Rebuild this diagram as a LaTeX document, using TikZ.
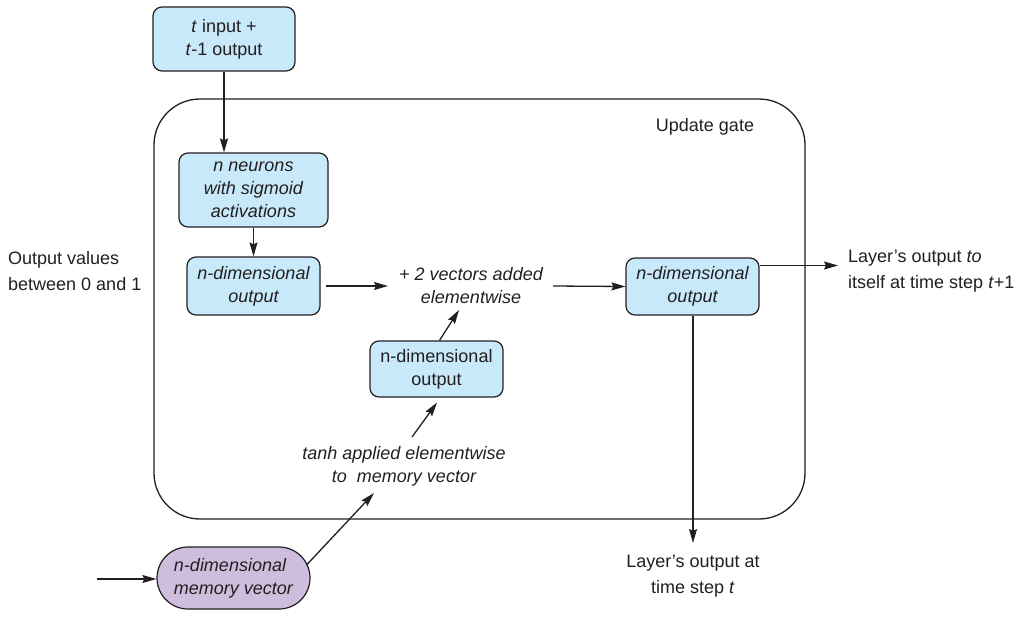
\documentclass[tikz,border=0pt]{standalone}
\usepackage{fontspec}
\setmainfont{Liberation Sans}
\usetikzlibrary{arrows.meta,calc}
\definecolor{boxblue}{HTML}{C8E9F9}
\definecolor{mempurple}{HTML}{CEBDDD}
\definecolor{linec}{HTML}{231F20}
\begin{document}
\begin{tikzpicture}[x=1pt,y=-1pt,
  every node/.style={text=linec},
  base/.style={font=\fontsize{18}{23}\selectfont},
  ital/.style={font=\fontsize{18}{23}\selectfont\itshape},
  box/.style={draw=linec, fill=boxblue, rounded corners=9pt, line width=1.2pt, align=center, inner sep=0pt},
  membox/.style={draw=linec, fill=mempurple, rounded corners=31pt, line width=1.2pt, align=left, inner sep=0pt, minimum width=153pt, minimum height=62pt},
  gatebox/.style={draw=linec, rounded corners=46pt, line width=1.3pt, inner sep=0pt},
  plain/.style={align=center, inner sep=0pt},
  lbl/.style={font=\fontsize{18}{26}\selectfont, inner sep=0pt},
  arr/.style={draw=linec, line width=1.3pt, -{Stealth[length=14pt,width=8pt,inset=2pt]}}
]
\useasboundingbox (0,0) rectangle (1024,616);

% frame
\node[gatebox, minimum width=651pt, minimum height=420pt] (gate) at (479.5,309) {};
\node[base, inner sep=0pt] (gatelbl) at (705,127) {Update gate};

% nodes
\node[box, base, minimum width=142pt, minimum height=64pt] (inp) at (224,39) {\textit{t} input +\\\textit{t}-1 output};
\node[box, ital, minimum width=149pt, minimum height=74pt] (neur) at (253.5,190) {n neurons\\with sigmoid\\activations};
\node[box, ital, minimum width=133pt, minimum height=58pt] (lout) at (253.5,286) {n-dimensional\\output};
\node[plain, ital] (add) at (471,286) {+ 2 vectors added\\elementwise};
\node[box, ital, minimum width=133pt, minimum height=57pt] (rout) at (692.5,286.5) {n-dimensional\\output};
\node[box, base, minimum width=133pt, minimum height=56pt] (mid) at (436.5,369) {n-dimensional\\output};
\node[plain, ital] (tanh) at (404,466) {tanh applied elementwise\\to\ \ memory vector};
\node[membox, ital] (mem) at (233.5,578) {n-dimensional\\memory vector};

% labels
\node[lbl, anchor=west, align=left] (outv) at (8,271) {Output values\\between 0 and 1};
\node[lbl, anchor=west, align=left] (nxt) at (848,271) {Layer’s output \textit{to}\\itself at time step \textit{t}+1};
\node[lbl, align=center] (tlbl) at (693,576) {Layer’s output at\\time step \textit{t}};

% free ends
\coordinate (nxtin) at (838,265.5);
\coordinate (tin) at (693,543);
\coordinate (memin) at (97,579);

% connectors
\draw[arr] (inp.south) -- (neur.north -| inp.south);
\draw[arr] (neur.south) -- (lout.north);
\draw[arr, shorten <=5pt] (lout.east) -- ($(add.center)+(-83,0)$);
\draw[arr] ($(add.center)+(82,0)$) -- (rout.west);
\draw[arr] (rout.east |- nxtin) -- (nxtin);
\draw[arr] (rout.south -| tin) -- (tin);
\draw[arr] ($(mid.north)+(3,0)$) -- ($(add.center)+(-12,24)$);
\draw[arr] ($(tanh.center)+(8,-29)$) -- ($(mid.south)+(0.5,5)$);
\draw[arr] ($(mem.center)+(73,-13)$) -- ($(tanh.center)+(-30,27)$);
\draw[arr] (memin) -- (mem.west |- memin);
\end{tikzpicture}
\end{document}
